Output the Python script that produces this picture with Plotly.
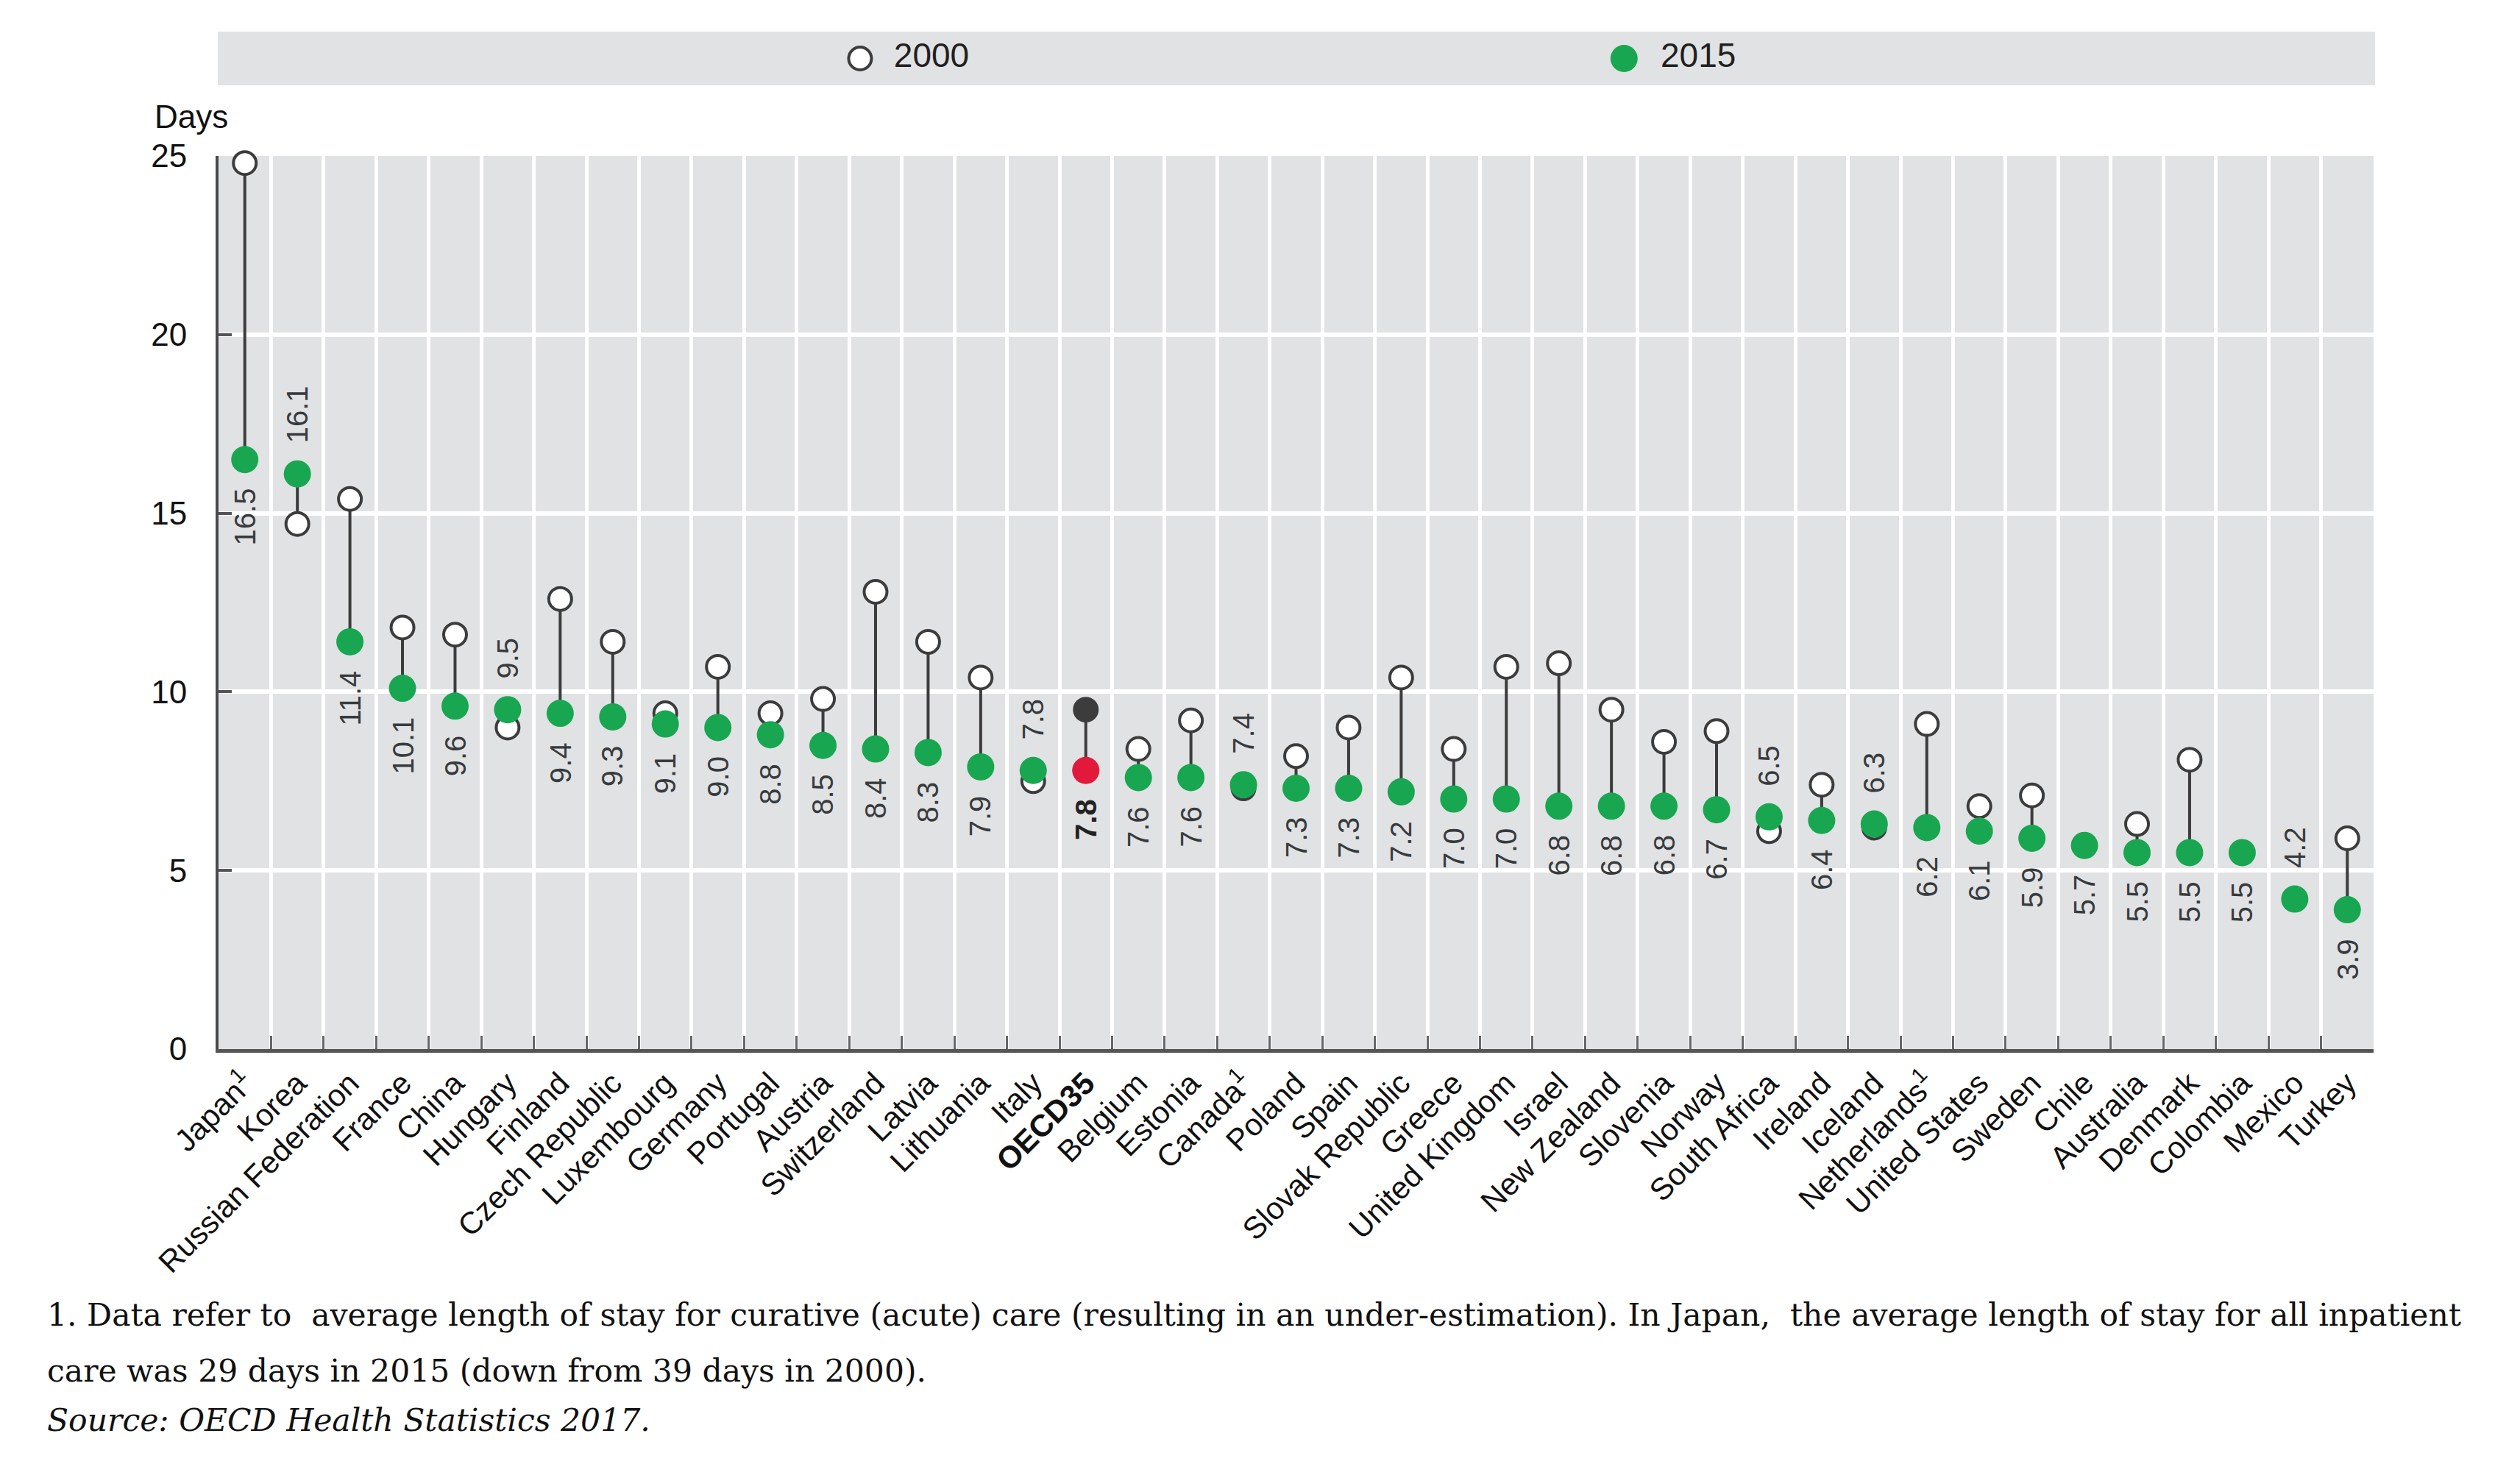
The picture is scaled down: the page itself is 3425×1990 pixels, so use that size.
import plotly.graph_objects as go

# Average length of stay in hospitals, 2000 and 2015
countries = [
    "Japan<sup>1</sup>", "Korea", "Russian Federation", "France", "China", "Hungary",
    "Finland", "Czech Republic", "Luxembourg", "Germany", "Portugal", "Austria",
    "Switzerland", "Latvia", "Lithuania", "Italy", "<b>OECD35</b>", "Belgium", "Estonia",
    "Canada<sup>1</sup>", "Poland", "Spain", "Slovak Republic", "Greece", "United Kingdom",
    "Israel", "New Zealand", "Slovenia", "Norway", "South Africa", "Ireland", "Iceland",
    "Netherlands<sup>1</sup>", "United States", "Sweden", "Chile", "Australia", "Denmark",
    "Colombia", "Mexico", "Turkey",
]
y2015 = [
    16.5, 16.1, 11.4, 10.1, 9.6, 9.5, 9.4, 9.3, 9.1, 9.0, 8.8, 8.5, 8.4, 8.3, 7.9, 7.8,
    7.8, 7.6, 7.6, 7.4, 7.3, 7.3, 7.2, 7.0, 7.0, 6.8, 6.8, 6.8, 6.7, 6.5, 6.4, 6.3, 6.2,
    6.1, 5.9, 5.7, 5.5, 5.5, 5.5, 4.2, 3.9,
]
y2000 = [
    24.8, 14.7, 15.4, 11.8, 11.6, 9.0, 12.6, 11.4, 9.4, 10.7, 9.4, 9.8, 12.8, 11.4, 10.4,
    7.5, 9.5, 8.4, 9.2, 7.3, 8.2, 9.0, 10.4, 8.4, 10.7, 10.8, 9.5, 8.6, 8.9, 6.1, 7.4, 6.2,
    9.1, 6.8, 7.1, None, 6.3, 8.1, None, None, 5.9,
]
legend_labels = ["2000", "2015"]
y_ticks = [0, 5, 10, 15, 20, 25]

OECD = "<b>OECD35</b>"
LABEL_ABOVE = {"Mexico"}  # label above the dot although there is no 2000 value

W, H = 3425, 1990
OFF = 8  # browser body margin
SANS = "Liberation Sans, Arial, sans-serif"
SERIF = "DejaVu Serif, Liberation Serif, serif"
BG = "#e1e2e4"
DARK = "#3c3c3c"
GREEN = "#18a651"
RED = "#e2193a"
GAP = "\u00a0\u00a0"


def px_x(v):
    return (v - OFF) / W


def px_y(v):
    return 1 - (v - OFF) / H


fig = go.Figure()

# connectors 2000 -> 2015
lx, ly = [], []
for c, a, b in zip(countries, y2000, y2015):
    if a is None:
        continue
    lx += [c, c, None]
    ly += [a, b, None]
fig.add_trace(go.Scatter(x=lx, y=ly, mode="lines", line=dict(color=DARK, width=4),
                         hoverinfo="skip", showlegend=False, cliponaxis=False))

fig.add_trace(go.Scatter(
    x=countries, y=y2000, mode="markers", name="2000", showlegend=False, cliponaxis=False,
    marker=dict(size=31, symbol="circle",
                color=[DARK if c == OECD else "white" for c in countries],
                line=dict(color=DARK, width=4)),
))
fig.add_trace(go.Scatter(
    x=countries, y=y2015, mode="markers", name="2015", showlegend=False, cliponaxis=False,
    marker=dict(size=37, color=[RED if c == OECD else GREEN for c in countries],
                line=dict(width=0)),
))

# legend band drawn as a second subplot
fig.add_trace(go.Scatter(
    x=legend_labels[:1], y=[0], xaxis="x2", yaxis="y2", mode="markers+text",
    text=[GAP + legend_labels[0]], textposition="middle right",
    textfont=dict(family=SANS, size=46, color="#231f20"),
    showlegend=False, hoverinfo="skip", cliponaxis=False,
    marker=dict(size=31, color="white", line=dict(color=DARK, width=4)),
))
fig.add_trace(go.Scatter(
    x=legend_labels[1:], y=[0], xaxis="x2", yaxis="y2", mode="markers+text",
    text=[GAP + legend_labels[1]], textposition="middle right",
    textfont=dict(family=SANS, size=46, color="#231f20"),
    showlegend=False, hoverinfo="skip", cliponaxis=False,
    marker=dict(size=37, color=GREEN, line=dict(width=0)),
))

annotations = []
for c, v, v0 in zip(countries, y2015, y2000):
    above = (v0 is not None and v0 < v) or c in LABEL_ABOVE
    txt = f"{v:.1f}"
    if c == OECD:
        txt = f"<b>{txt}</b>"
    annotations.append(dict(
        x=c, y=v, xref="x", yref="y", text=txt, textangle=-90, showarrow=False,
        xanchor="center", yanchor="bottom" if above else "top",
        yshift=40 if above else -37,
        font=dict(family=SANS, size=40, color="#222" if c == OECD else "#383b3d"),
    ))

annotations.append(dict(
    x=px_x(208), y=px_y(158), xref="paper", yref="paper", text="Days", showarrow=False,
    xanchor="left", yanchor="middle", font=dict(family=SANS, size=44, color="#111"),
))

notes = [
    ("1. Data refer to  average length of stay for curative (acute) care (resulting in an "
     "under-estimation). In Japan,  the average length of stay for all inpatient", 1787, "normal"),
    ("care was 29 days in 2015 (down from 39 days in 2000).", 1863, "normal"),
    ("Source: OECD Health Statistics 2017.", 1930, "italic"),
]
for text, ypx, style in notes:
    annotations.append(dict(
        x=px_x(62), y=px_y(ypx), xref="paper", yref="paper", text=text, showarrow=False,
        xanchor="left", yanchor="middle",
        font=dict(family=SERIF, size=42.5, color="#111", style=style),
    ))

fig.update_layout(
    width=W, height=H,
    margin=dict(l=0, r=0, t=0, b=0),
    paper_bgcolor="white",
    plot_bgcolor=BG,
    showlegend=False,
    annotations=annotations,
    xaxis=dict(
        domain=[px_x(297), px_x(3226)], type="category", categoryorder="array",
        categoryarray=countries, range=[-0.5, len(countries) - 0.5],
        tickson="boundaries", showgrid=True, gridcolor="white", gridwidth=5,
        ticks="inside", ticklen=18, tickwidth=3, tickcolor="#666",
        showline=True, linecolor="#555", linewidth=5,
        tickangle=-45, automargin=False,
        tickfont=dict(family=SANS, size=42, color="#111"),
    ),
    yaxis=dict(
        domain=[px_y(1426), px_y(212)], range=[0, 25], tickvals=y_ticks,
        showgrid=True, gridcolor="white", gridwidth=6, zeroline=False,
        ticks="inside", ticklen=18, tickwidth=4, tickcolor="#555",
        showline=True, linecolor="#4a4a4a", linewidth=4,
        ticklabelstandoff=30, automargin=False,
        tickfont=dict(family=SANS, size=44, color="#111"),
    ),
    xaxis2=dict(
        domain=[px_x(296), px_x(3228)], anchor="y2", type="category",
        categoryorder="array", categoryarray=legend_labels,
        range=[-0.8407, 1.983], visible=False,
    ),
    yaxis2=dict(
        domain=[px_y(116), px_y(43)], anchor="x2", range=[-1, 1], visible=False,
    ),
)

fig.write_html("out.html")
